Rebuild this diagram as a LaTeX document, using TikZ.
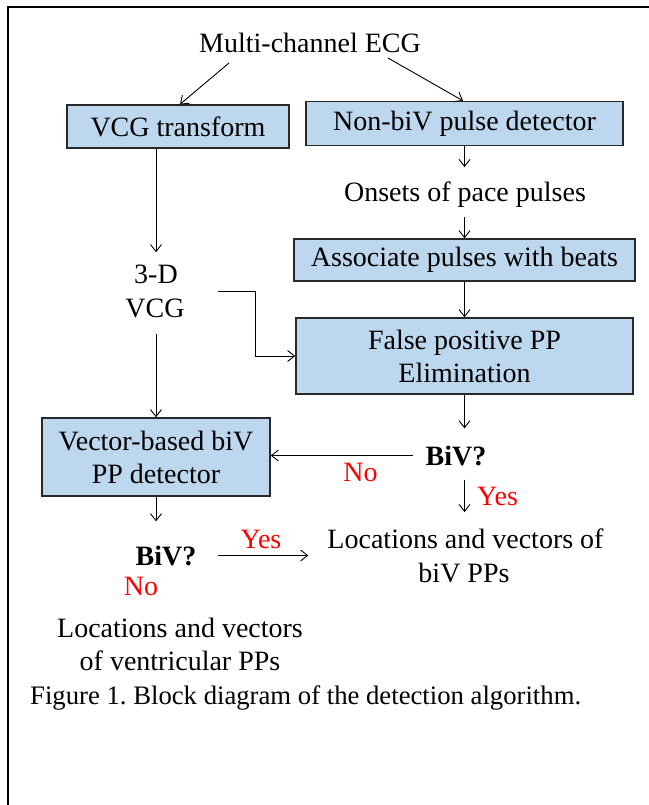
\documentclass[tikz,border=0pt]{standalone}
\usepackage{fontspec}
\setmainfont{Liberation Serif}
\usetikzlibrary{arrows.meta}
\frenchspacing
\definecolor{boxblue}{RGB}{189,215,238}
\definecolor{boxline}{RGB}{40,40,40}
\definecolor{lblred}{RGB}{255,0,0}
\tikzset{
  box/.style={draw=boxline, line width=1.4pt, fill=boxblue, inner sep=0pt, align=center,
              font=\fontsize{28}{33}\selectfont},
  txt/.style={inner sep=0pt, anchor=base, font=\fontsize{28}{33}\selectfont},
  redtxt/.style={txt, text=lblred},
  boldtxt/.style={txt, font=\fontsize{28}{33}\selectfont\bfseries},
  arr/.style={-{Straight Barb[length=7pt,width=11pt]}, line width=0.9pt},
}
\begin{document}
\begin{tikzpicture}[x=1pt,y=-1pt]
\useasboundingbox (0,0) rectangle (648,805);
% frame
\draw[line width=2.5pt] (8,815) -- (8,7) -- (660,7);

% boxes
\node[box, minimum width=222pt, minimum height=43pt] (vcg) at (178,126.5) {VCG transform};
\node[box, minimum width=317pt, minimum height=44pt] (nonbiv) at (464.5,123.5) {Non-biV pulse detector};
\node[box, minimum width=341pt, minimum height=42pt] (assoc) at (464.5,260) {Associate pulses with beats};
\node[box, minimum width=337pt, minimum height=76pt] (falsep) at (464.5,356) {False positive PP\\Elimination};
\node[box, minimum width=228pt, minimum height=78pt] (vector) at (156,457) {Vector-based biV\\PP detector};

% texts
\node[txt] (ecg) at (310,53) {Multi-channel ECG};
\node[txt] (onsets) at (465,201) {Onsets of pace pulses};
\node[txt] (threed) at (156,283) {3-D};
\node[txt] (vcgtxt) at (155,317) {VCG};
\node[boldtxt] (biva) at (456,465) {BiV?};
\node[redtxt] (noa) at (360.5,481) {No};
\node[redtxt, anchor=base west] (yesa) at (477,505) {Yes};
\node[txt] (locbiv) at (465.5,548) {Locations and vectors of};
\node[txt] (locbivb) at (464,582) {biV PPs};
\node[boldtxt] (bivb) at (166,565) {BiV?};
\node[redtxt] (yesb) at (261,548) {Yes};
\node[redtxt] (nob) at (141,595) {No};
\node[txt] (locvent) at (180,637) {Locations and vectors};
\node[txt] (locventb) at (180,670) {of ventricular PPs};
\node[txt, anchor=base west, font=\fontsize{26.7}{32}\selectfont] (caption) at (30,704) {Figure 1. Block diagram of the detection algorithm.};

% connector helper coordinates
\coordinate (ecgl) at (229,63);
\coordinate (ecgr) at (388,58);
\coordinate (vj) at (218,291);

% connectors
\draw[arr] (ecgl) -- ([xshift=2pt]vcg.north);
\draw[arr] (ecgr) -- ([xshift=-1.5pt]nonbiv.north);
\draw[arr, shorten >=14pt] (nonbiv.south) -- (nonbiv.south |- onsets.north);
\draw[arr, shorten <=10pt] (onsets.south -| assoc.north) -- (assoc.north);
\draw[arr, shorten >=12pt] (threed.north |- vcg.south) -- (threed.north);
\draw[arr] (assoc.south) -- (falsep.north);
\draw[arr] (vj) -| ([xshift=-40pt]falsep.west) -- (falsep.west);
\draw[arr, shorten <=16pt] (vector.north |- vcgtxt.south) -- (vector.north);
\draw[arr, shorten >=17pt] (falsep.south) -- (falsep.south |- biva.north);
\draw[arr, shorten <=12pt] (biva.west) -- (biva.west -| vector.east);
\draw[arr, shorten <=14pt, shorten >=16pt] (falsep.south |- biva.south) -- (falsep.south |- locbiv.north);
\draw[arr, shorten >=24pt] (vector.south) -- (vector.south |- bivb.north);
\draw[arr, shorten <=21pt, shorten >=19pt] (bivb.east) -- (bivb.east -| locbiv.west);
\end{tikzpicture}
\end{document}
